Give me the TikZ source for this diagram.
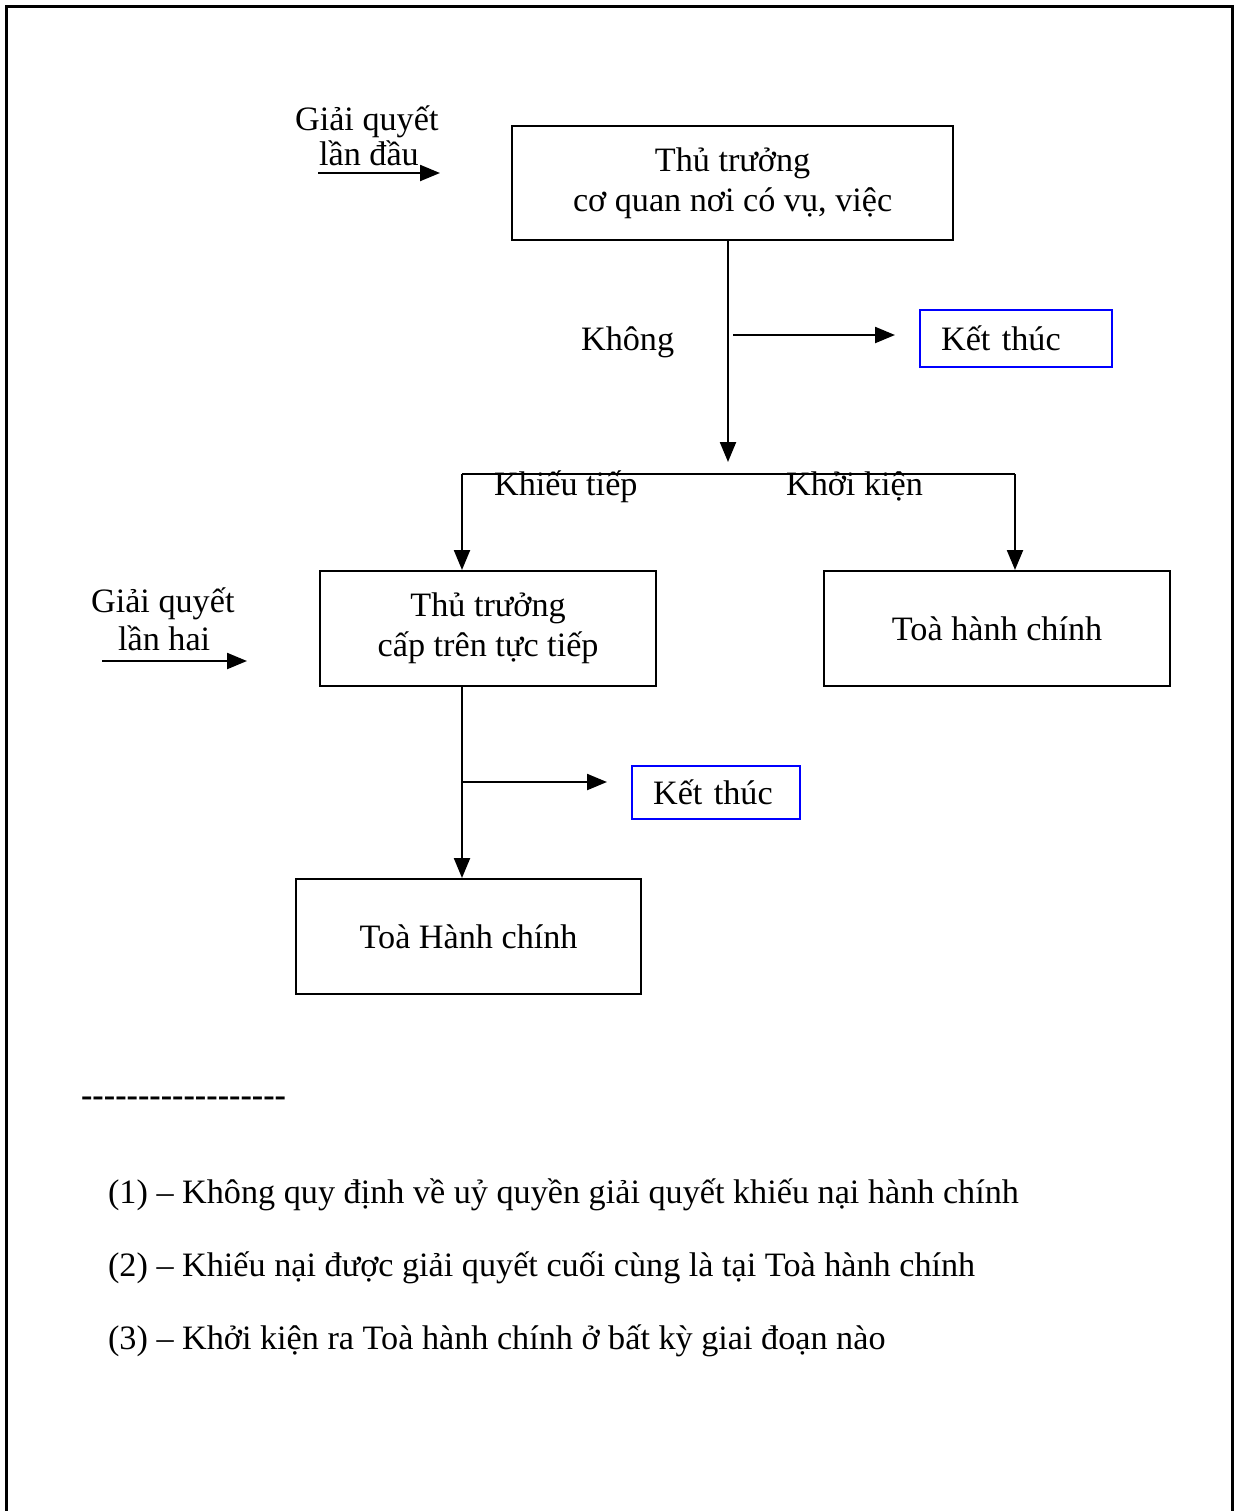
\documentclass[tikz,border=0pt]{standalone}
\usepackage{fontspec}
\setmainfont{Liberation Serif}
\usetikzlibrary{arrows.meta}
\begin{document}
\begin{tikzpicture}[x=0.5pt,y=-0.5pt,
  font=\fontsize{17.1}{20}\selectfont,
  line width=1.1pt,
  box/.style={draw, line width=1.1pt, inner sep=0pt, align=center, anchor=north west},
  endbox/.style={draw=blue, line width=1.1pt, anchor=north west, inner ysep=0pt,
    inner xsep=10.5pt, align=left},
  lbl/.style={inner sep=0pt, anchor=base west},
  arr/.style={-{Triangle[length=10pt,width=8pt]}}]

\useasboundingbox (0,0) rectangle (1238,1511);

% page frame, open at the bottom
\draw[line width=1.5pt] (6,1511) -- (6,6) -- (1232,6) -- (1232,1511);

% first level
\node[lbl] (g1a) at (294,130) {Giải quyết};
\node[lbl] (g1b) at (318,165) {lần đầu};
\coordinate (a1s) at (318,173);
\coordinate (a1e) at (440,173);
\draw[arr] (a1s) -- (a1e);

\node[box, minimum width=220.5pt, minimum height=57pt] (box1) at (511,125)
  {Thủ trưởng\\cơ quan nơi có vụ, việc};

\coordinate (split1) at (728,462);
\draw[arr] (box1.south -| split1) -- (split1);

\node[lbl] (khong) at (580,350) {Không};
\node[endbox, minimum height=28.5pt, text width=75pt] (ket1) at (919,309) {Kết thúc};
\coordinate (b1) at (733,335);
\draw[arr] (b1) -- ([xshift=-12pt]ket1.west |- b1);

% fork
\coordinate (fl) at (462,474);
\coordinate (fr) at (1015,474);
\draw (fl) -- (fr);
\node[lbl] (kt) at (493,495) {Khiếu tiếp};
\node[lbl] (kk) at (785,495) {Khởi kiện};

\node[box, minimum width=168pt, minimum height=57.5pt] (box2) at (319,570)
  {Thủ trưởng\\cấp trên tực tiếp};
\node[box, minimum width=173pt, minimum height=57.5pt] (box3) at (823,570)
  {Toà hành chính};
\draw[arr] (fl) -- (box2.north -| fl);
\draw[arr] (fr) -- (box3.north -| fr);

% second level
\node[lbl] (g2a) at (90,612) {Giải quyết};
\node[lbl] (g2b) at (117,650) {lần hai};
\coordinate (a2s) at (102,661);
\coordinate (a2e) at (247,661);
\draw[arr] (a2s) -- (a2e);

\node[box, minimum width=172.5pt, minimum height=57.5pt] (box4) at (295,878)
  {Toà Hành chính};
\coordinate (v2) at (462,0);
\draw[arr] (box2.south -| v2) -- (box4.north -| v2);

\node[endbox, minimum height=26.5pt, text width=63pt] (ket2) at (631,765) {Kết thúc};
\coordinate (b2) at (462,782);
\draw[arr] (b2) -- ([xshift=-12pt]ket2.west |- b2);

% notes
\node[lbl, font=\fontsize{17.1}{20}\selectfont\bfseries] (rule) at (80,1106)
  {{-}{-}{-}{-}{-}{-}{-}{-}{-}{-}{-}{-}{-}{-}{-}{-}{-}{-}};
\node[lbl] (n1) at (107,1203) {(1) – Không quy định về uỷ quyền giải quyết khiếu nại hành chính};
\node[lbl] (n2) at (107,1276) {(2) – Khiếu nại được giải quyết cuối cùng là tại Toà hành chính};
\node[lbl] (n3) at (107,1349) {(3) – Khởi kiện ra Toà hành chính ở bất kỳ giai đoạn nào};
\end{tikzpicture}
\end{document}
